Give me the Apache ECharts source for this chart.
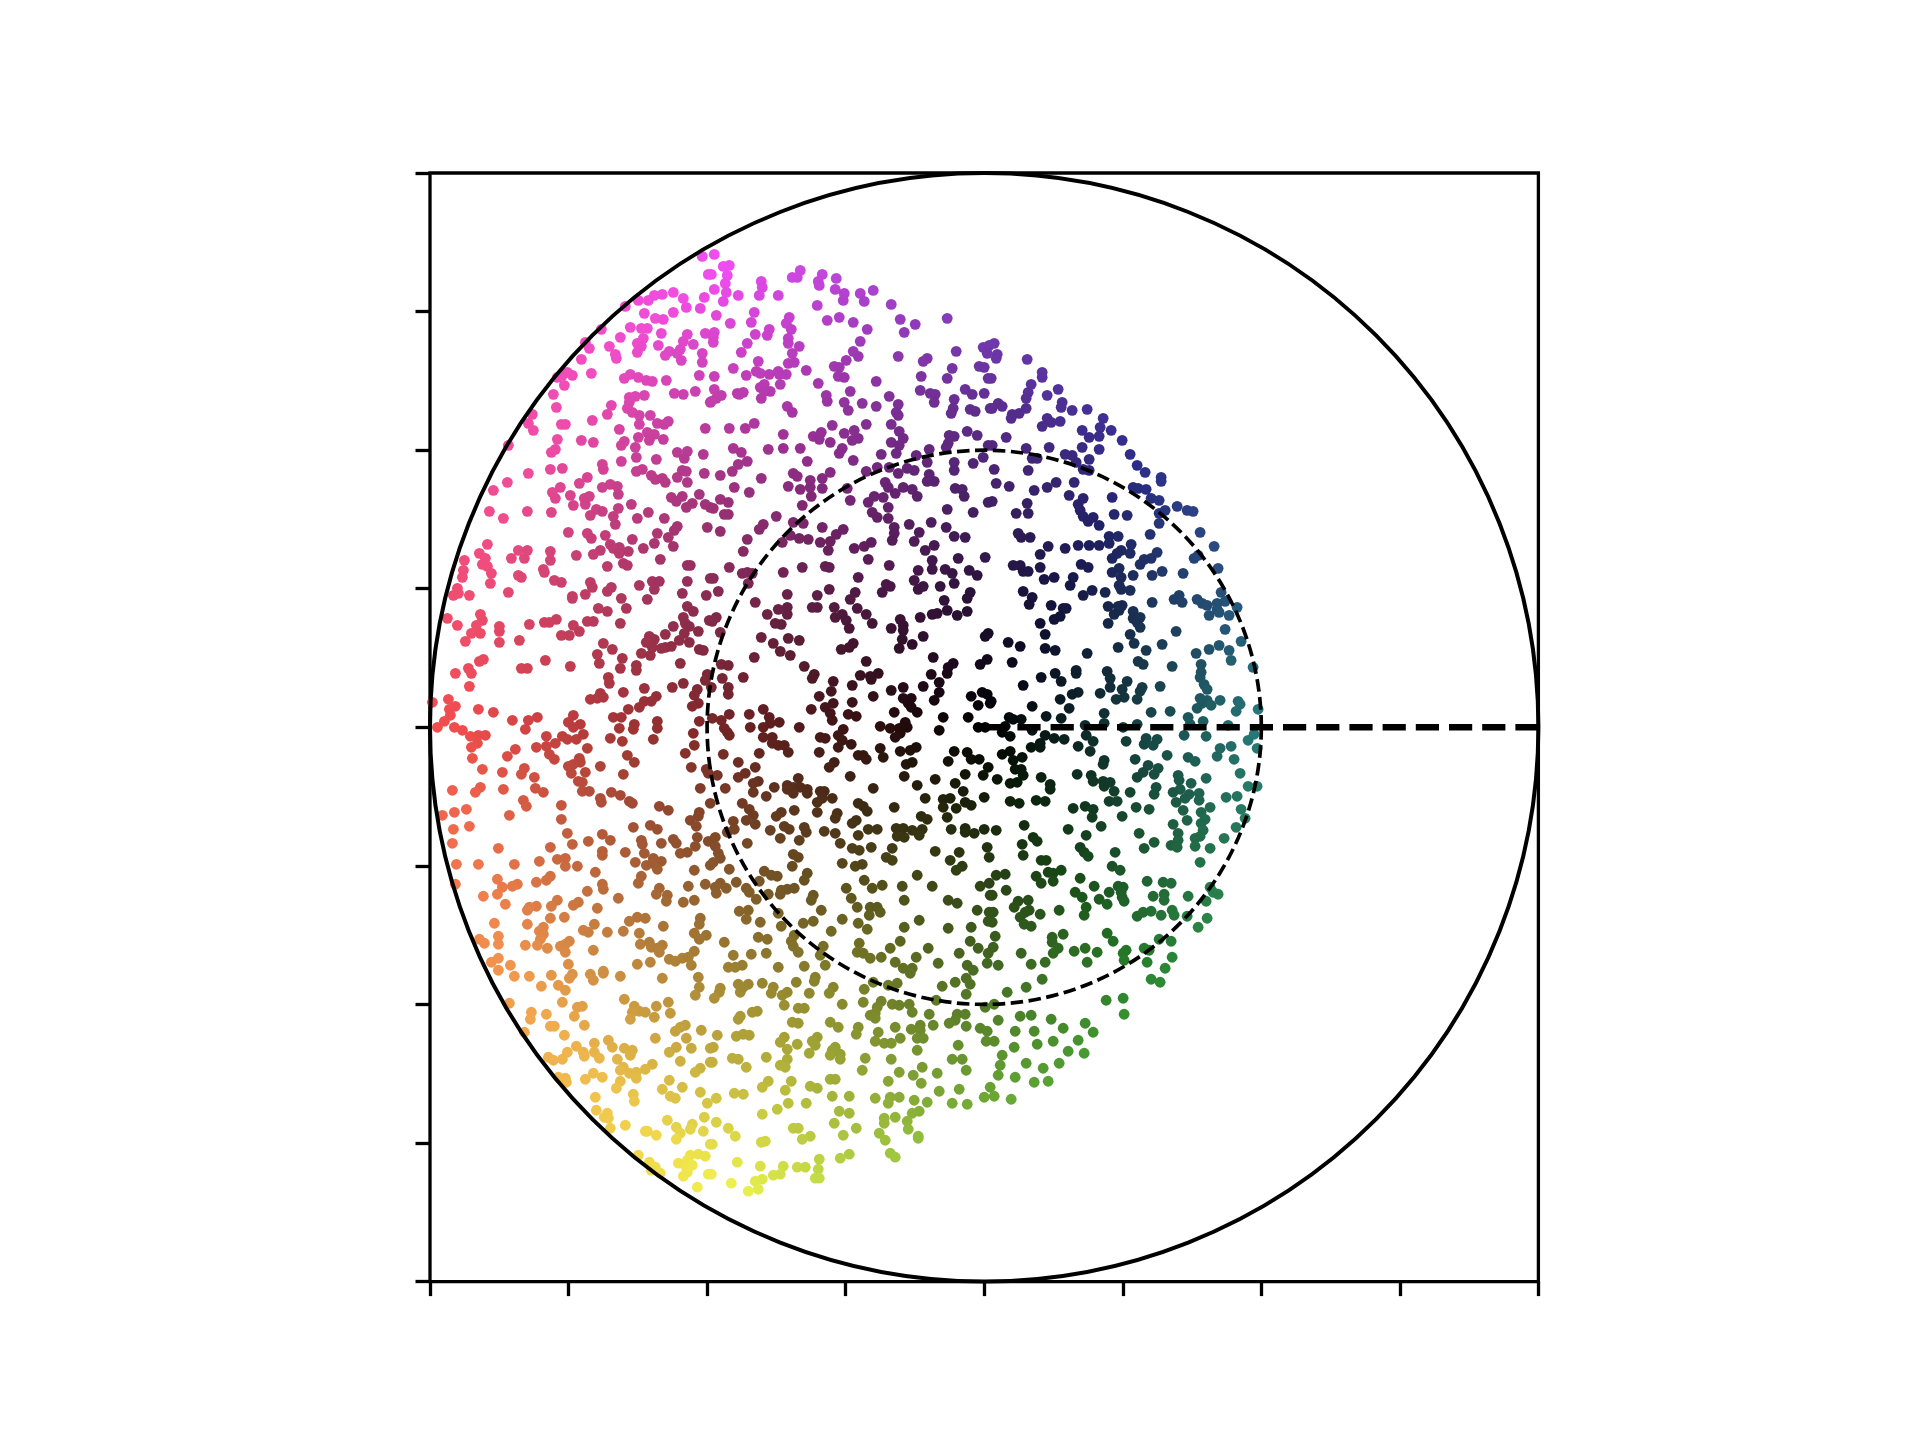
<!DOCTYPE html>
<html><head><meta charset="utf-8"><style>html,body{margin:0;background:#fff}#c{width:1920px;height:1440px}</style>
<script src="https://cdn.jsdelivr.net/npm/echarts@6/dist/echarts.min.js"></script></head><body><div id="c"></div><script>
// Values, flat x,y pairs, in thousandth-like units where 554.4 = 1 axis unit.
const UNIT=554.4;
const regionTopLeft=[-282,471,-276,453,-311,435,-322,433,-330,432,-336,427,-346,427,-359,421,-340,414,-301,429,-298,420,-311,415,-284,419,-280,430,-329,409,-321,408,-354,400,-343,399,-337,399,-383,398,-364,390,-323,394,-341,389,-297,393,-301,386,-279,394,-347,384,-343,381,-399,385,-395,379,-375,381,-326,382,-291,383,-304,378,-315,376,-319,372,-307,374,-347,375,-369,373,-368,369,-403,368,-303,367,-282,374,-282,365,-417,355,-412,352,-422,352,-427,350,-393,354,-420,342,-354,353,-346,350,-360,349,-338,347,-332,346,-318,347,-285,352,-431,333,-310,334,-301,333,-289,336,-274,325,-428,320,-373,322,-340,332,-349,331,-355,330,-355,325,-357,319,-352,315,-345,312,-377,313,-334,312,-452,313,-456,304,-451,297,-392,307,-423,303,-419,303,-345,303,-327,304,-316,306,-320,303,-279,299,-365,298,-337,295,-330,293,-346,290,-335,287,-321,288,-427,288,-403,287,-391,285,-476,282,-360,286,-363,282,-429,278,-433,275,-349,280,-307,275,-297,276,-281,273,-348,270,-300,269,-328,268,-363,266,-382,263,-381,258,-434,258,-422,259,-456,254,-342,258,-348,256,-302,257,-298,256,-280,254,-333,252,-307,250,-397,250,-477,245,-405,244,-329,248,-322,249,-319,245,-297,245,-491,237,-424,240,-382,240,-374,243,-367,241,-432,235];
const regionTopMiddle=[-270,473,-261,461,-255,462,-257,452,-273,453,-259,444,-270,438,-258,435,-246,432,-261,426,-223,446,-222,440,-225,432,-206,432,-184,457,-192,450,-187,450,-162,453,-166,446,-165,442,-148,449,-149,438,-140,434,-141,427,-124,434,-111,437,-120,426,-167,422,-93,423,-230,415,-268,412,-195,410,-254,404,-233,405,-198,404,-157,407,-145,410,-131,405,-84,408,-37,409,-69,403,-117,398,-193,398,-215,398,-270,395,-229,393,-217,392,-80,395,-271,390,-196,389,-124,386,-271,385,-237,384,-196,384,-185,381,-1,380,5,382,-243,375,-192,374,-131,376,-28,376,3,374,-126,371,-86,371,-57,369,-61,366,-138,367,-226,366,-196,364,-190,365,-251,359,-150,361,-145,360,-32,359,-5,361,0,360,-178,357,-228,356,-224,354,-238,352,-215,353,-206,356,-205,353,-198,353,-270,351,-146,351,-140,350,-63,351,-37,349,4,349,-166,344,-108,346,-220,343,-224,340,-204,343,-64,337,-19,338,-134,336,-214,336,-220,336,-241,335,-247,334,-245,333,-270,338,-263,332,-268,329,-273,326,-54,334,-49,333,-12,333,0,334,-223,329,-158,332,-95,331,-30,328,-50,325,-157,326,-140,325,-122,324,-86,323,-197,321,-108,321,-136,317,-192,315,-31,319,-14,318,-9,316,6,319,-88,315,-86,312,-33,314,-230,304,-255,299,-239,299,-152,302,-118,303,-93,303,-163,295,-201,293,-171,291,-140,294,-130,297,-85,296,-17,296,-165,288,-7,292,-126,289,-132,287,-81,289,-35,292,-30,291,-154,285,-93,285,-85,282,-36,284,-38,280,-251,279,-216,278,-201,279,-184,279,-142,279,-243,275,-145,274,-55,278,-103,273,-88,274,-68,272,4,282,-1,270,-237,266,-246,263,-177,266,-131,267,-57,265,-30,265,-11,264,-252,256,-107,260,-95,260,-86,254,-77,259,-70,257,-118,256,-30,257,-191,254,-187,251,-154,255,-264,252,-55,253,-223,249,-174,247,-162,249,-99,245,-50,246,-57,246,-250,240,-196,241,-174,240,-184,238,-162,239,-137,239,-96,240,-81,240,-72,238,-29,239,-22,238,-235,235];
const regionTopRight=[10,384,13,373,12,369,43,368,58,355,58,350,7,349,47,343,74,338,44,335,63,332,42,329,78,325,14,324,18,321,8,319,42,319,77,320,88,317,103,318,35,314,28,313,27,309,119,309,63,309,67,305,76,306,58,301,116,300,98,297,127,297,115,291,105,290,22,290,138,287,98,280,65,280,8,282,42,279,115,278,81,273,88,272,146,273,105,268,53,269,48,269,92,265,153,262,99,258,105,257,161,255,177,250,177,246,10,258,44,257,72,245,90,245,12,244,25,241,63,240,50,237,149,240,154,239,162,238];
const regionUpperLeft=[-429,229,-414,232,-400,229,-395,231,-411,222,-399,223,-366,233,-366,219,-388,218,-382,216,-394,212,-353,223,-313,230,-302,231,-308,226,-285,233,-292,224,-298,220,-279,223,-274,220,-495,216,-457,216,-433,215,-481,209,-336,215,-371,211,-347,209,-320,209,-369,203,-307,201,-277,200,-310,197,-416,195,-397,194,-393,189,-379,192,-327,194,-316,190,-352,188,-330,184,-374,183,-365,180,-497,183,-311,181,-341,179,-371,179,-356,176,-365,174,-434,176,-384,177,-505,174,-466,177,-457,177,-408,172,-391,173,-499,169,-473,169,-460,169,-324,168,-520,167,-434,167,-361,164,-357,162,-502,163,-497,161,-377,161,-297,162,-294,162,-521,157,-441,158,-440,155,-493,154,-522,150,-466,152,-463,150,-430,147,-423,145,-394,145,-332,146,-325,146,-297,146,-274,149,-494,144,-527,139,-345,142,-392,140,-373,140,-377,136,-526,134,-531,132,-515,132,-476,135,-330,138,-302,134,-412,131,-412,129,-399,133,-363,129,-337,128,-278,132,-386,119,-358,119,-297,121,-377,116,-291,116,-504,113,-537,109,-502,107,-428,108,-440,105,-435,105,-397,106,-391,106,-364,104,-301,110,-275,107,-508,102,-527,102,-455,103,-411,102,-485,101,-299,104,-295,101,-311,101,-485,96,-286,96,-405,96,-513,94,-504,94,-423,92,-415,92,-319,93,-300,94,-335,91,-330,88,-305,87,-519,86,-485,85,-465,87,-338,85,-295,85,-381,84,-319,80,-313,81,-323,79,-332,80,-372,78,-285,78,-281,77,-343,74,-334,72,-387,73,-362,69,-501,68,-505,66,-439,67,-385,64,-414,61,-348,62,-304,64,-516,59,-463,59,-457,59,-364,59,-348,57,-513,54,-529,54,-277,53,-376,50,-279,47,-375,44,-515,41,-301,44,-340,39,-312,40,-287,38,-361,35,-384,34,-290,32,-328,31,-394,28,-387,29,-381,30,-536,28,-333,26,-340,26,-552,25,-286,24,-292,21,-529,21,-345,20,-356,18,-535,18,-506,18,-491,15,-534,12,-411,12,-447,10,-371,10,-363,10,-540,6,-472,7,-456,7,-416,5,-327,6,-285,6,-350,3,-404,3,-547,0,-530,0,-522,-3,-459,-2,-411,0,-365,-1,-351,-2,-327,-1];
const regionUpperMiddle=[-264,228,-256,225,-271,219,-260,213,-256,213,-173,231,-182,222,-134,227,-116,225,-110,231,-101,230,-89,234,-67,231,-20,231,4,225,-96,220,-112,215,-107,210,-96,209,-37,218,-11,215,-208,211,-191,205,-181,204,-221,203,-225,198,-264,196,-162,200,-141,198,-148,193,-90,200,-75,203,-53,205,-38,200,-90,194,-65,195,-237,188,-194,192,-185,189,-176,188,-202,185,-164,185,-154,186,-113,185,-120,181,-130,179,-92,187,-70,186,-50,182,-30,191,-19,190,-241,176,-156,177,-59,177,-116,168,-26,169,1,170,-52,167,-95,162,-159,161,-155,160,-182,160,-255,160,-66,157,-52,158,-39,158,-32,154,-15,157,-7,152,-237,155,-242,154,-232,154,-201,155,-126,150,-271,149,-30,144,-70,147,-98,143,-94,141,-236,144,-66,138,-61,141,-44,141,-155,138,-102,135,-266,136,-129,135,-14,135,-197,133,-167,132,-17,129,-134,128,-229,125,-40,127,-197,120,-206,118,-172,120,-167,120,-150,120,-127,119,-197,113,-217,113,-268,110,-272,106,-142,113,-149,110,-118,113,-47,114,-52,113,-37,117,-27,112,-17,116,-64,110,-84,108,-138,107,-209,104,-203,103,-112,104,-81,102,-93,99,-81,97,-135,99,-264,95,4,94,1,91,-223,90,-196,89,-185,87,-61,91,-82,88,-211,84,-131,84,-135,80,-143,78,-72,83,-85,79,-204,76,-194,72,-230,70,-51,70,-118,66,3,68,-263,63,-256,62,-31,64,-4,63,-36,60,-180,61,-170,53,-172,49,-124,52,-114,51,-106,54,-113,48,-53,53,-37,54,-241,50,-262,49,-45,45,-151,46,-132,42,-81,40,-61,41,-256,40,-273,40,-153,36,-93,37,-45,35,-256,33,-2,35,3,33,-13,31,-165,31,-111,31,-81,29,-73,29,-50,27,-151,24,-132,25,-76,24,6,24,-159,20,-221,18,-173,18,-73,20,-6,22,-154,14,-90,15,-67,15,-235,13,-215,10,-255,13,-136,13,-128,11,-272,9,-263,7,-41,10,-16,10,-152,7,-79,5,-205,5,-221,0,-214,4,-104,1,-94,-1,-85,-1,-77,0,-260,-1,-234,0,-185,0,-141,-2,-45,-3,-6,0,1,0];
const regionUpperRight=[8,226,85,232,99,229,128,230,167,229,175,227,43,224,94,223,193,221,203,217,209,216,96,217,32,214,44,214,130,213,143,212,181,217,175,214,99,211,109,210,104,206,175,204,115,202,216,195,34,194,37,190,46,190,166,193,125,191,134,191,64,181,94,182,105,182,115,182,125,184,147,183,230,181,81,179,137,177,133,174,146,174,173,175,56,173,128,169,167,169,160,168,210,169,214,172,156,163,29,162,36,162,97,163,104,160,56,160,234,159,39,156,44,156,135,159,128,155,178,156,199,154,149,152,168,152,70,150,89,150,137,150,60,148,86,142,135,142,137,138,146,137,108,137,121,135,39,136,237,135,99,132,48,130,195,132,190,128,198,125,213,128,218,124,223,122,241,126,233,124,168,125,45,123,138,122,134,121,124,121,67,122,253,120,79,119,82,119,76,111,70,108,135,117,130,113,149,116,233,118,235,115,225,112,245,112,149,109,156,110,56,104,124,104,153,105,156,100,241,98,192,96,61,93,146,93,150,84,24,85,257,86,178,83,235,82,36,81,134,80,61,79,71,77,162,77,225,78,245,77,212,74,103,74,247,67,28,65,154,66,159,63,217,63,188,61,269,60,217,55,92,57,92,54,123,56,57,50,71,54,77,46,126,49,216,50,39,42,143,46,126,40,176,41,220,43,223,38,158,40,156,36,138,38,94,35,88,33,116,34,7,26,76,28,140,30,153,28,132,28,216,29,223,27,218,24,236,27,254,26,256,23,48,21,85,19,213,19,227,22,274,18,167,15,186,16,252,16,120,14,62,11,77,9,25,10,37,8,29,8,204,10,120,4,219,6,153,3,101,2,21,1,139,0,206,3,244,2];
const regionLowerLeft=[-514,-9,-506,-8,-499,-8,-507,-16,-513,-20,-512,-31,-502,-42,-469,-22,-477,-29,-438,-9,-422,-9,-417,-12,-429,-16,-408,-12,-401,-7,-374,-11,-362,-14,-331,-12,-290,-18,-291,-6,-448,-20,-438,-19,-397,-21,-435,-27,-430,-32,-299,-26,-357,-28,-405,-31,-404,-35,-350,-35,-411,-37,-416,-39,-384,-39,-293,-40,-460,-41,-482,-45,-399,-45,-413,-46,-463,-47,-361,-47,-278,-42,-276,-46,-450,-50,-406,-54,-402,-55,-532,-63,-504,-60,-509,-65,-481,-62,-449,-61,-441,-65,-402,-64,-395,-64,-373,-65,-364,-68,-284,-61,-384,-71,-355,-74,-352,-76,-383,-75,-274,-76,-461,-73,-458,-79,-423,-78,-325,-79,-316,-83,-518,-82,-530,-85,-542,-88,-475,-88,-285,-85,-286,-89,-423,-92,-294,-93,-515,-99,-531,-102,-288,-99,-334,-98,-327,-102,-351,-100,-417,-106,-382,-107,-532,-116,-396,-114,-374,-113,-287,-110,-343,-113,-342,-117,-311,-112,-308,-116,-323,-116,-412,-117,-276,-114,-434,-120,-486,-121,-289,-119,-382,-124,-382,-128,-359,-125,-340,-126,-304,-126,-297,-125,-445,-134,-427,-132,-419,-131,-331,-131,-528,-137,-506,-137,-470,-137,-349,-135,-323,-134,-338,-138,-332,-136,-419,-139,-407,-139,-327,-142,-274,-138,-290,-143,-389,-145,-434,-149,-343,-149,-487,-152,-438,-153,-448,-155,-529,-157,-346,-156,-382,-157,-467,-157,-472,-159,-482,-160,-296,-159,-279,-157,-381,-162,-397,-164,-325,-161,-487,-167,-501,-169,-328,-167,-317,-168,-366,-171,-427,-173,-290,-173,-301,-175,-318,-174,-479,-177,-406,-175,-411,-178,-448,-179,-433,-179,-455,-180,-387,-181,-457,-183,-420,-190,-434,-191,-347,-190,-339,-191,-355,-194,-284,-191,-285,-197,-490,-196,-457,-197,-390,-197,-441,-200,-321,-199,-401,-203,-396,-205,-445,-204,-441,-207,-377,-205,-361,-204,-345,-206,-290,-206,-278,-208,-285,-212,-486,-209,-505,-212,-500,-216,-486,-217,-444,-212,-415,-214,-344,-217,-335,-215,-322,-218,-459,-218,-447,-218,-437,-221,-424,-219,-419,-217,-333,-220,-327,-221,-419,-225,-391,-223,-325,-225,-290,-224,-486,-231,-493,-235,-315,-232,-309,-234,-302,-231,-296,-230,-334,-235,-347,-237,-474,-238,-416,-237,-293,-238,-486,-243,-381,-244];
const regionLowerMiddle=[-257,-5,-255,-8,-221,-10,-212,-10,-212,-16,-206,-18,-200,-18,-196,-25,-165,-25,-164,-10,-159,-11,-146,-8,-142,-13,-146,-20,-133,-17,-104,-21,-84,-6,-89,-10,-84,-24,-74,-23,-68,-20,-101,-30,-126,-28,-121,-28,-118,-32,-261,-27,-225,-26,-246,-35,-229,-40,-150,-35,-155,-40,-78,-37,-72,-35,-30,-24,-17,-25,-13,-32,-5,-32,-36,-34,4,-40,-267,-48,-246,-50,-239,-46,-134,-49,-80,-49,-19,-47,-1,-48,-226,-54,-231,-56,-186,-51,-49,-52,-29,-56,-67,-58,-259,-61,-210,-60,-231,-65,-197,-58,-191,-60,-184,-60,-177,-62,-111,-61,-197,-62,-164,-64,-160,-64,-191,-66,-177,-66,-218,-69,-21,-64,-152,-71,-162,-71,-59,-71,0,-70,-41,-72,-34,-71,-242,-76,-167,-75,-126,-76,-121,-79,-19,-75,-13,-78,-41,-80,-90,-80,-28,-81,-235,-82,-190,-83,-117,-84,-203,-85,-167,-85,-147,-86,-208,-89,-231,-88,-63,-89,-37,-90,-149,-91,-57,-92,-251,-94,-238,-93,-128,-93,-132,-96,-229,-97,-180,-100,-200,-99,-195,-102,-250,-102,-88,-101,-81,-101,-72,-103,-62,-102,-116,-102,-107,-102,-214,-103,-160,-104,-178,-105,-33,-102,-19,-101,-19,-105,-10,-106,0,-102,-257,-105,-149,-106,-126,-108,-87,-109,-80,-110,-65,-108,-269,-110,-204,-111,-185,-113,-237,-116,-269,-119,-144,-116,-132,-121,-125,-123,-113,-120,-92,-121,-49,-124,-25,-125,3,-120,-266,-126,-191,-127,-186,-130,-98,-130,-92,-133,-34,-133,5,-130,-264,-131,-271,-135,-142,-136,-192,-139,-129,-139,-122,-137,-22,-139,-28,-143,-255,-142,-220,-144,-213,-148,-207,-149,-177,-146,-67,-148,-225,-154,-248,-155,-180,-153,-120,-153,-102,-158,-264,-156,-82,-159,-52,-159,-4,-159,5,-156,-238,-161,-269,-160,-258,-161,-138,-161,-112,-161,-203,-163,-197,-162,-190,-161,-235,-165,-216,-167,-268,-166,6,-168,-228,-172,-204,-167,-171,-168,-173,-173,-133,-171,-80,-173,-36,-173,-27,-176,-127,-180,-114,-180,-107,-180,-104,-185,-163,-183,-7,-183,-236,-183,-245,-184,-206,-186,-115,-188,5,-185,-142,-192,-65,-193,-238,-192,-171,-194,-224,-195,-181,-196,-126,-196,4,-194,-203,-199,-80,-200,-13,-200,-36,-201,-153,-204,-117,-202,-190,-208,-226,-210,-217,-212,-260,-215,-193,-214,-125,-216,-84,-214,-14,-214,-161,-219,-191,-219,-94,-221,-56,-221,-6,-221,-186,-225,-233,-227,-218,-226,-251,-228,-127,-225,-121,-226,-25,-226,4,-226,-164,-228,-114,-231,-103,-230,-68,-230,-89,-235,-46,-236,-242,-238,-249,-240,-256,-240,-206,-240,-180,-239,-159,-238,-81,-241,-72,-241,-17,-238,3,-236,-11,-243];
const regionLowerRight=[18,-5,26,-9,48,-3,61,-8,70,-11,80,-12,102,-8,109,-14,142,-14,162,-11,173,-12,160,-17,169,-18,200,-8,222,-9,270,-7,264,-13,273,-21,247,-19,236,-21,233,-29,250,-32,204,-30,211,-34,183,-28,151,-32,94,-19,106,-24,47,-20,56,-16,56,-20,26,-24,18,-27,38,-30,29,-33,120,-33,119,-37,164,-38,174,-41,159,-45,170,-47,153,-50,194,-48,222,-51,256,-46,207,-56,195,-53,31,-42,37,-42,39,-48,93,-47,107,-48,109,-54,57,-50,13,-52,26,-56,33,-55,119,-54,126,-55,120,-59,66,-57,66,-62,130,-64,146,-65,172,-60,196,-62,264,-59,273,-59,170,-67,189,-65,205,-67,215,-66,201,-71,215,-73,242,-70,253,-69,125,-74,133,-74,26,-74,35,-76,52,-73,61,-74,192,-75,101,-79,109,-82,89,-81,152,-80,165,-82,226,-80,199,-83,257,-82,217,-85,108,-90,138,-89,221,-92,203,-93,261,-91,189,-97,217,-96,40,-98,117,-99,252,-100,12,-103,84,-102,219,-103,155,-106,194,-106,102,-108,194,-113,216,-109,49,-110,53,-114,240,-111,211,-111,170,-115,38,-117,187,-118,193,-120,160,-121,211,-119,226,-121,96,-120,39,-128,100,-125,104,-129,131,-125,57,-133,62,-133,216,-135,128,-139,136,-143,77,-143,64,-145,21,-147,12,-148,52,-149,69,-146,96,-151,69,-154,57,-156,163,-154,179,-155,187,-156,110,-159,134,-159,139,-160,226,-160,22,-163,91,-165,125,-165,137,-165,234,-167,229,-165,8,-168,180,-167,169,-169,204,-169,98,-170,138,-170,34,-174,44,-173,180,-173,115,-172,123,-177,140,-174,222,-174,30,-180,45,-183,102,-180,41,-185,75,-183,9,-185,188,-183,56,-187,167,-184,159,-185,153,-189,177,-188,190,-188,203,-189,100,-188,36,-190,223,-191,8,-195,40,-197,47,-199,214,-200,79,-207,11,-209,123,-206,68,-210,68,-215,129,-214,175,-212,187,-214,9,-220,74,-221,69,-226,142,-223,139,-226,160,-221,165,-223,37,-226,90,-224,101,-221,113,-225,140,-233,163,-235,188,-230,61,-235,103,-235,47,-237,14,-238,181,-241];
const regionBottomLeft=[-470,-249,-455,-249,-433,-248,-412,-247,-415,-251,-394,-247,-391,-253,-381,-246,-364,-249,-322,-251,-286,-250,-443,-259,-426,-258,-419,-263,-285,-260,-289,-268,-360,-272,-422,-275,-475,-276,-316,-275,-402,-279,-407,-280,-350,-279,-328,-279,-345,-284,-339,-285,-352,-285,-453,-285,-314,-286,-438,-287,-410,-289,-454,-292,-330,-290,-354,-292,-400,-298,-434,-299,-430,-299,-299,-298,-304,-300,-309,-304,-283,-303,-460,-305,-420,-308,-329,-311,-298,-311,-408,-319,-390,-316,-376,-313,-372,-320,-308,-320,-293,-321,-274,-321,-360,-321,-352,-323,-417,-325,-390,-325,-401,-325,-315,-325,-354,-328,-400,-329,-436,-330,-385,-331,-422,-332,-367,-332,-431,-333,-304,-334,-274,-335,-332,-337,-361,-340,-339,-342,-364,-343,-284,-341,-289,-345,-391,-346,-355,-346,-348,-345,-426,-350,-419,-351,-382,-350,-399,-352,-348,-351,-315,-353,-418,-355,-364,-354,-322,-362,-368,-361,-302,-360,-284,-365,-351,-367,-314,-369,-309,-371,-389,-370,-350,-374,-277,-376,-388,-383,-377,-386,-380,-390,-376,-391,-280,-390,-317,-393,-292,-397,-359,-398,-308,-400,-374,-401,-294,-402,-281,-404,-339,-404,-337,-404,-328,-408,-304,-406,-308,-412,-274,-417,-346,-428,-294,-428,-286,-427,-279,-429,-335,-435,-329,-440,-306,-436,-297,-433,-298,-440,-292,-438,-333,-443,-324,-446,-297,-445,-301,-449,-276,-447,-287,-460];
const regionBottomMiddle=[-169,-250,-170,-254,-111,-255,-222,-256,-188,-255,-96,-258,-87,-256,-42,-259,-29,-255,-18,-251,-14,-257,-74,-246,-264,-261,-265,-265,-246,-257,-236,-257,-244,-265,-241,-260,-211,-260,-213,-266,-197,-265,-202,-268,-175,-266,-151,-260,-155,-266,-120,-262,-18,-267,-270,-271,-103,-274,-48,-273,-200,-278,-142,-277,-121,-275,-92,-277,-85,-278,-75,-277,-107,-280,-186,-281,-180,-281,1,-280,-227,-284,-232,-285,-72,-285,-109,-286,-114,-288,-55,-287,-27,-287,-19,-287,-244,-289,-246,-292,-109,-291,-29,-293,-35,-296,-192,-295,-186,-296,-154,-295,-18,-299,-64,-298,-51,-298,-146,-300,-126,-300,-89,-300,-73,-302,-64,-303,-4,-301,3,-304,-106,-305,-128,-307,-267,-308,-248,-309,-241,-307,-235,-308,-200,-310,-167,-310,-67,-311,-61,-311,-84,-311,-204,-315,-172,-314,-169,-318,-109,-314,-100,-316,-93,-316,2,-314,-187,-317,-26,-318,-271,-320,-197,-322,-149,-320,-152,-323,-67,-323,-144,-327,-175,-326,-154,-328,-144,-332,-252,-331,-246,-332,-218,-330,-119,-331,-93,-332,-32,-332,-22,-332,-197,-332,-272,-335,-204,-338,-238,-340,-199,-340,-62,-340,-122,-343,-18,-343,-85,-345,-47,-346,-71,-348,-216,-354,-193,-354,-154,-352,-149,-352,-96,-354,-63,-356,-222,-360,-174,-359,-167,-361,-199,-363,6,-360,-45,-364,-25,-362,-250,-366,-241,-367,-268,-371,-152,-369,-135,-369,-109,-371,-85,-370,-94,-370,0,-370,-196,-376,-178,-376,-96,-376,-70,-373,-57,-375,-32,-376,-17,-377,-207,-382,-222,-387,-145,-384,-135,-386,-65,-384,-72,-386,-89,-390,-100,-391,-77,-394,-100,-396,-268,-395,-150,-396,-191,-401,-186,-401,-256,-401,-128,-401,-76,-402,-249,-409,-174,-409,-182,-412,-141,-408,-105,-406,-66,-409,-66,-411,-99,-413,-272,-417,-219,-414,-223,-415,-135,-427,-94,-426,-89,-430,-144,-431,-165,-432,-247,-435,-224,-439,-201,-439,-187,-440,-179,-440,-166,-442,-273,-447,-211,-448,-204,-447,-222,-452,-229,-454,-169,-451,-165,-451,-253,-456,-226,-462,-236,-464];
const regionBottomRight=[10,-277,23,-265,42,-260,58,-252,36,-289,47,-288,67,-292,79,-301,101,-296,94,-313,122,-273,139,-271,140,-287,167,-252,176,-255,14,-293,31,-304,50,-304,10,-314,30,-320,53,-317,69,-314,84,-324,100,-326,75,-336,59,-341,42,-336,18,-328,16,-338,31,-350,50,-355,64,-354,27,-372,10,-369,109,-305,14,-348];
const rayEnds=[[0,0],[1,0]];
const ringRadii=[1,0.5];
const axisTicks=0.25;

const flat=[].concat(regionTopLeft,regionTopMiddle,regionTopRight,regionUpperLeft,regionUpperMiddle,regionUpperRight,regionLowerLeft,regionLowerMiddle,regionLowerRight,regionBottomLeft,regionBottomMiddle,regionBottomRight);
const points=[];
for(let i=0;i<flat.length;i+=2)points.push([flat[i]/UNIT,flat[i+1]/UNIT]);

function colourOf(x,y){
  const r=Math.hypot(x,y);
  let h=(Math.atan2(y,x)*180/Math.PI+180)%360; if(h<0)h+=360;
  const v=Math.min(0.94,Math.pow(r,1.05)),s=0.68;
  const c=v*s,m=v-c,k=h/60,q=c*(1-Math.abs(k%2-1));
  const t=[[c,q,0],[q,c,0],[0,c,q],[0,q,c],[q,0,c],[c,0,q]][Math.floor(k)%6];
  return 'rgb('+t.map(a=>Math.round((a+m)*255)).join(',')+')';
}
const chart=echarts.init(document.getElementById('c'),null,{renderer:'canvas',width:1920,height:1440});
const axisBase={type:'value',min:-1,max:1,interval:axisTicks,axisLabel:{show:false},splitLine:{show:false},axisLine:{show:false,onZero:false},
  axisTick:{show:true,inside:false,length:14.5,lineStyle:{color:'#000',width:3.3}}};
const ringStyles=[{lineWidth:4,lineDash:null},{lineWidth:3.7,lineDash:[12.5,5.5]}];
chart.setOption({
  animation:false,backgroundColor:'#fff',
  grid:{left:430,top:173,width:1108.4,height:1108.6,show:true,borderColor:'#000',borderWidth:3.3,backgroundColor:'transparent'},
  xAxis:axisBase,yAxis:axisBase,
  series:[
   {type:'scatter',data:points,symbol:'circle',symbolSize:10.8,large:false,progressive:0,z:2,silent:true,
    itemStyle:{opacity:1,color:p=>colourOf(p.value[0],p.value[1])}},
   {type:'custom',coordinateSystem:'cartesian2d',z:3,silent:true,clip:false,data:ringRadii.map(r=>[0,0,r]),
    encode:{x:0,y:1},
    renderItem:(p,api)=>{const c=api.coord([api.value(0),api.value(1)]);const s=api.size([api.value(2),0]);const st=ringStyles[p.dataIndex];
      return {type:'circle',shape:{cx:c[0],cy:c[1],r:s[0]},style:{fill:null,stroke:'#000',lineWidth:st.lineWidth,lineDash:st.lineDash}};}},
   {type:'line',data:rayEnds,showSymbol:false,symbol:'none',z:4,silent:true,clip:false,lineStyle:{color:'#000',width:6.6,type:[23.2,10],cap:'butt'}}
  ]
});
</script></body></html>
